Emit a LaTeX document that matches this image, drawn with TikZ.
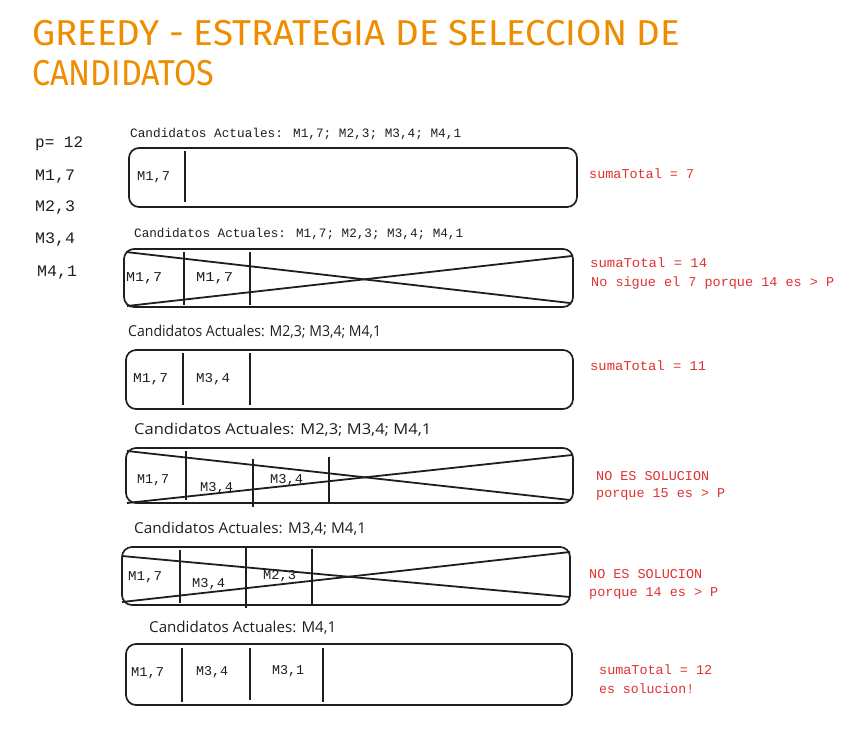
\documentclass[tikz,border=0pt]{standalone}
\usepackage{fontspec}
\usepackage{graphicx}
\setmainfont{Liberation Sans}
\newfontfamily\monof{Liberation Mono}
\newfontfamily\handf{Open Sans}
\newfontfamily\titlef{Fira Sans}
\definecolor{ink}{HTML}{1E1E1E}
\definecolor{exorange}{HTML}{F08C00}
\definecolor{exred}{HTML}{E03131}
\newcommand{\fw}[2]{\resizebox{#1pt}{\height}{#2}}
\tikzset{
  txt/.style={anchor=base west, inner sep=0pt, text=ink},
  ttl/.style={txt, text=exorange, font=\titlef\fontsize{36}{40}\selectfont},
  side/.style={txt, font=\monof\fontsize{16}{18}\selectfont},
  cell/.style={txt, font=\monof\fontsize{13.5}{16}\selectfont},
  lblm/.style={txt, font=\monof\fontsize{12.8}{15}\selectfont},
  lblh/.style={txt, font=\handf\fontsize{15}{17}\selectfont},
  note/.style={txt, text=exred, font=\monof\fontsize{13.5}{16}\selectfont},
  boxr/.style={draw=ink, line width=1.7pt, rounded corners=10pt},
  divd/.style={draw=ink, line width=2.1pt},
  crossl/.style={draw=ink, line width=1.8pt}
}
\begin{document}
\begin{tikzpicture}[x=1pt,y=-1pt]
\useasboundingbox (0,0) rectangle (845,734);
% title
\node[ttl] (t1) at (32,45) {\fw{648}{GREEDY - ESTRATEGIA DE SELECCION DE}};
\node[ttl] (t2) at (32,85) {\fw{182}{CANDIDATOS}};
% side list
\node[side] (p) at (35,147) {\fw{48}{p= 12}};
\node[side] (s1) at (35,180) {\fw{40}{M1,7}};
\node[side] (s2) at (35,211) {\fw{40}{M2,3}};
\node[side] (s3) at (35,243) {\fw{40}{M3,4}};
\node[side] (s4) at (37,276) {\fw{40}{M4,1}};

% ---- row 1
\node[lblm] (l1) at (130,137) {\fw{331}{Candidatos Actuales: M1,7; M2,3; M3,4; M4,1}};
\draw[boxr] (129,148) rectangle (577,207);
\draw[divd] (185,151) -- (185,202);
\node[cell] (c11) at (137,180) {\fw{33}{M1,7}};
\node[note] (n1) at (589,178) {\fw{105}{sumaTotal = 7}};

% ---- row 2
\node[lblm] (l2) at (134,237) {\fw{329}{Candidatos Actuales: M1,7; M2,3; M3,4; M4,1}};
\draw[boxr] (124,249) rectangle (573,307);
\draw[divd] (184,252) -- (184,305);
\draw[divd] (250,252) -- (250,305);
\draw[crossl] (126,252) -- (570,303);
\draw[crossl] (127,306) -- (572,256);
\node[cell] (c21) at (126,281) {\fw{36}{M1,7}};
\node[cell] (c22) at (196,281) {\fw{37}{M1,7}};
\node[note] (n2a) at (590,267) {\fw{117}{sumaTotal = 14}};
\node[note] (n2b) at (591,286) {\fw{243}{No sigue el 7 porque 14 es > P}};

% ---- row 3
\node[lblh] (l3) at (128,336) {\fw{253}{Candidatos Actuales: M2,3; M3,4; M4,1}};
\draw[boxr] (126,350) rectangle (573,409);
\draw[divd] (183,353) -- (183,405);
\draw[divd] (250,353) -- (250,405);
\node[cell] (c31) at (133,382) {\fw{35}{M1,7}};
\node[cell] (c32) at (196,382) {\fw{34}{M3,4}};
\node[note] (n3) at (590,370) {\fw{116}{sumaTotal = 11}};

% ---- row 4
\node[lblh] (l4) at (134,434) {\fw{297}{Candidatos Actuales: M2,3; M3,4; M4,1}};
\draw[boxr] (126,448) rectangle (573,503);
\draw[divd] (186,451) -- (186,500);
\draw[divd] (253,459) -- (253,507);
\draw[divd] (329,457) -- (329,503);
\draw[crossl] (127,451) -- (570,500);
\draw[crossl] (127,503) -- (572,455);
\node[cell] (c41) at (137,483) {\fw{32}{M1,7}};
\node[cell] (c42) at (200,491) {\fw{33}{M3,4}};
\node[cell] (c43) at (270,483) {\fw{33}{M3,4}};
\node[note] (n4a) at (596,480) {\fw{113}{NO ES SOLUCION}};
\node[note] (n4b) at (596,497) {\fw{129}{porque 15 es > P}};

% ---- row 5
\node[lblh] (l5) at (134,533) {\fw{232}{Candidatos Actuales: M3,4; M4,1}};
\draw[boxr] (122,547) rectangle (570,605);
\draw[divd] (180,550) -- (180,603);
\draw[divd] (246,547) -- (246,608);
\draw[divd] (312,549) -- (312,605);
\draw[crossl] (122,556) -- (570,597);
\draw[crossl] (122,602) -- (570,552);
\node[cell] (c51) at (128,580) {\fw{34}{M1,7}};
\node[cell] (c52) at (192,587) {\fw{33}{M3,4}};
\node[cell] (c53) at (263,579) {\fw{33}{M2,3}};
\node[note] (n5a) at (589,578) {\fw{113}{NO ES SOLUCION}};
\node[note] (n5b) at (589,596) {\fw{129}{porque 14 es > P}};

% ---- row 6
\node[lblh] (l6) at (149,632) {\fw{187}{Candidatos Actuales: M4,1}};
\draw[boxr] (126,644) rectangle (572,705);
\draw[divd] (182,648) -- (182,702);
\draw[divd] (250,648) -- (250,700);
\draw[divd] (323,648) -- (323,702);
\node[cell] (c61) at (131,676) {\fw{33}{M1,7}};
\node[cell] (c62) at (196,675) {\fw{32}{M3,4}};
\node[cell] (c63) at (272,674) {\fw{32}{M3,1}};
\node[note] (n6a) at (599,674) {\fw{113}{sumaTotal = 12}};
\node[note] (n6b) at (599,693) {\fw{95}{es solucion!}};
\end{tikzpicture}
\end{document}
